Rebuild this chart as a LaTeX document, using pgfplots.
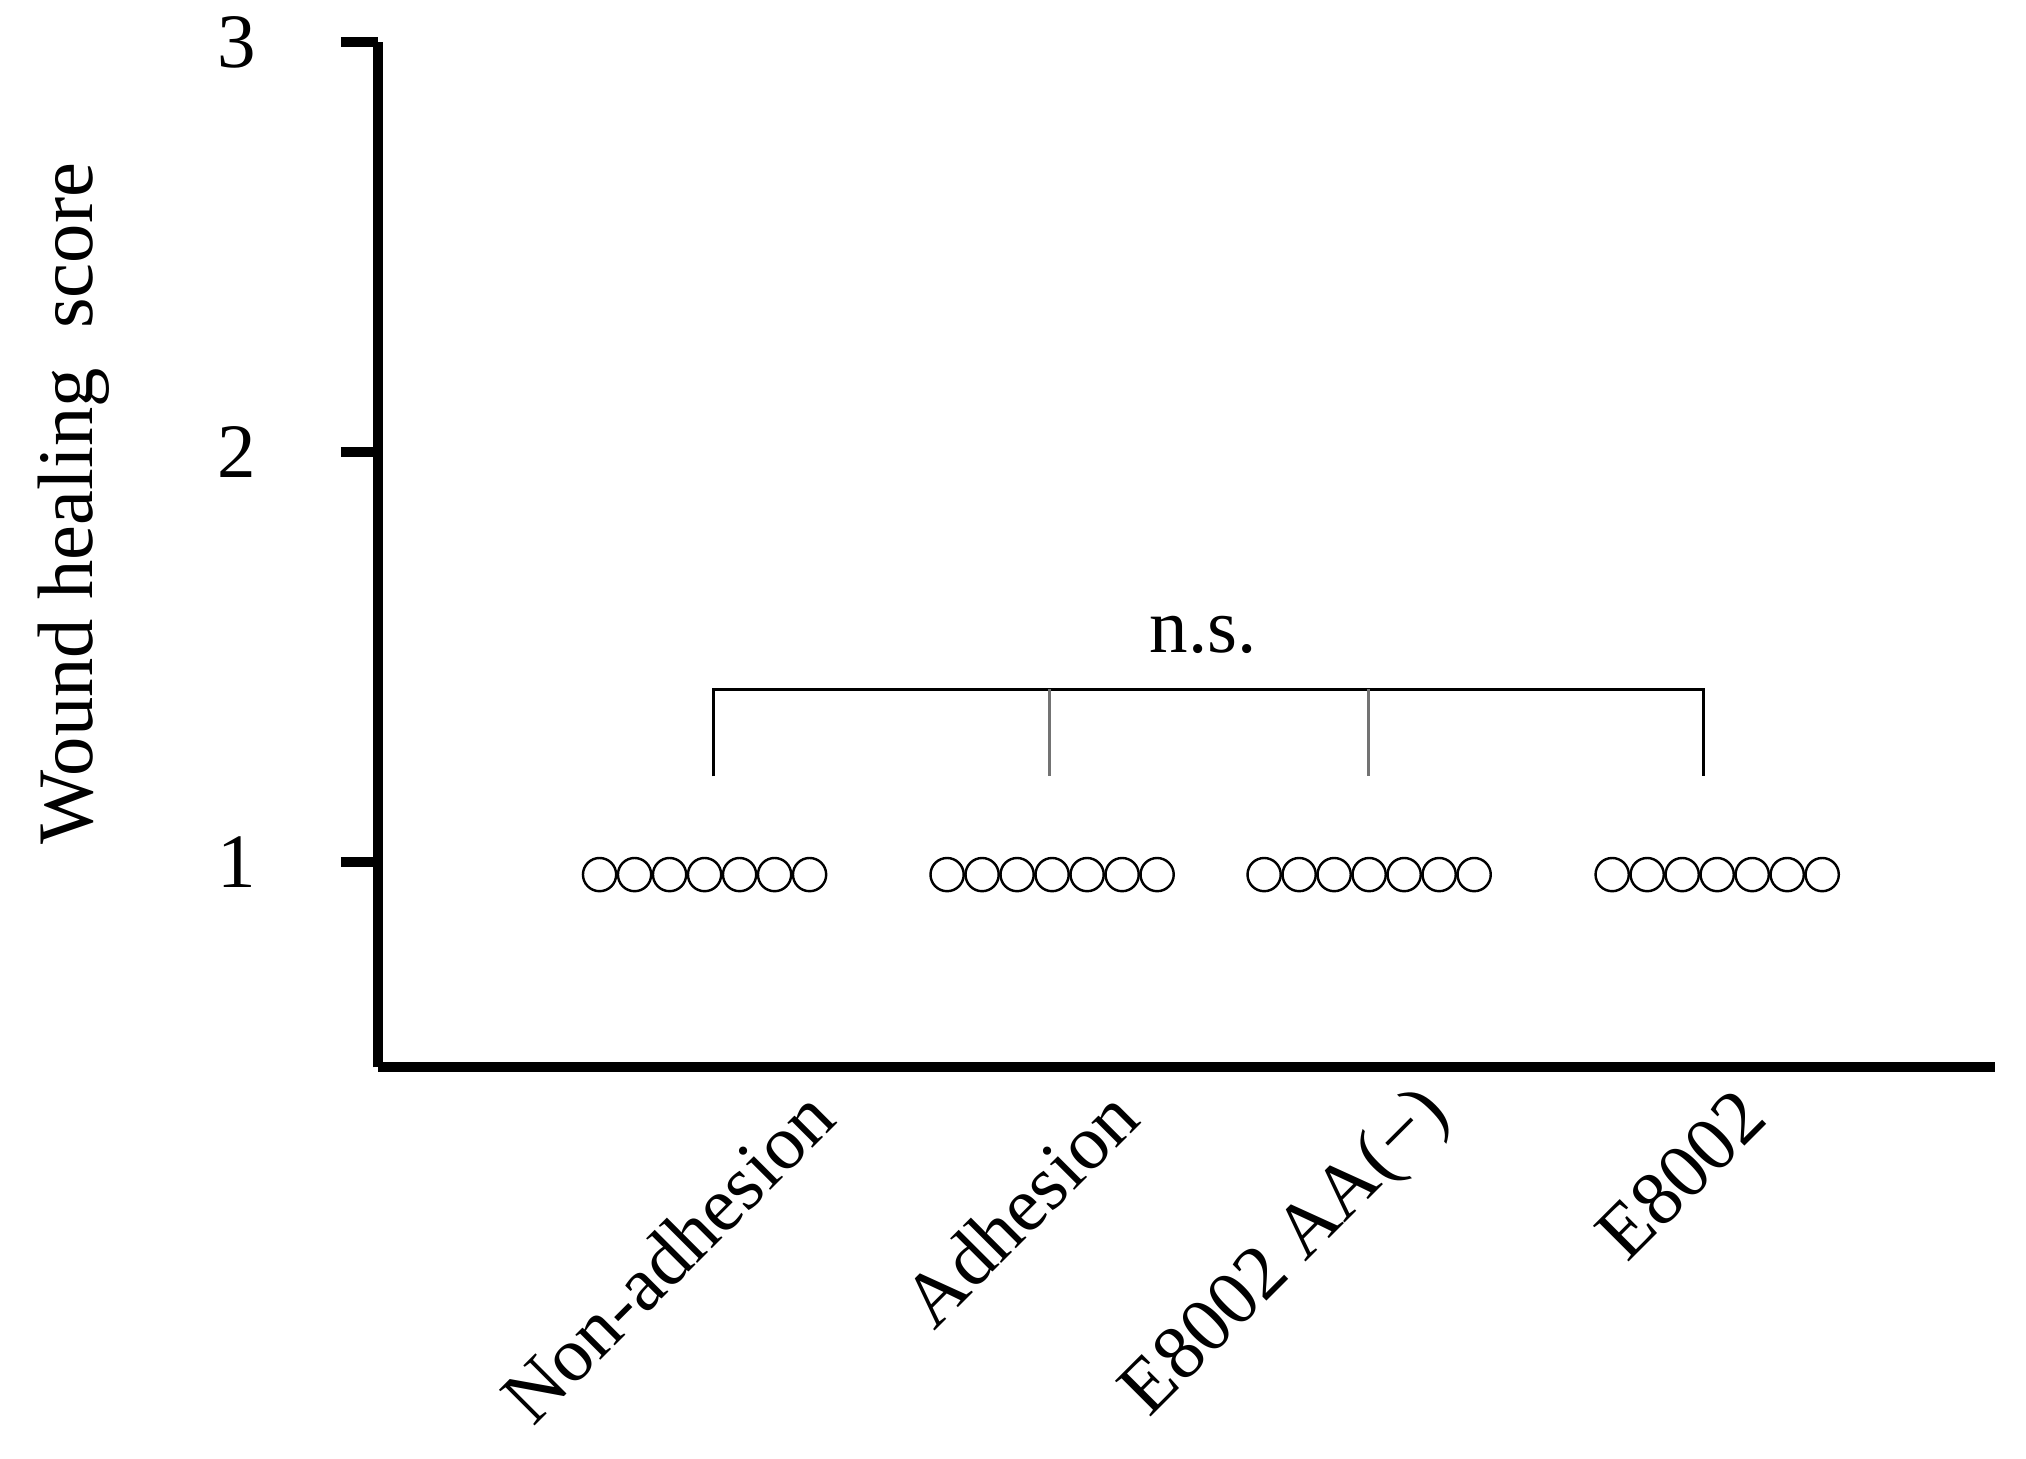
\documentclass[border=0pt]{standalone}
\usepackage{pgfplots}
\pgfplotsset{compat=1.18}
\usepackage{fontspec}
\setmainfont{Liberation Serif}

\begin{document}
\begin{tikzpicture}
\begin{axis}[
  scale only axis, width=399.1pt, height=253pt,
  xmin=0, xmax=16.17, ymin=0.5, ymax=3,
  axis lines=left, axis line style={-, line width=2.5pt},
  tick align=outside,
  xtick={4.44,7.48,10.62,13.76},
  xticklabels={Non-adhesion, Adhesion, E8002 AA(−), E8002},
  xtick style={draw=none},
  xticklabel style={rotate=45, anchor=east, inner sep=0pt, yshift=0.5pt,
    font=\fontsize{19}{22}\selectfont},
  ytick={1,2,3},
  ytick style={line width=2.5pt, black},
  major tick length=9.2pt,
  yticklabel style={inner sep=0pt, anchor=east, xshift=-20.7pt,
    font=\fontsize{19}{22}\selectfont},
  /pgf/number format/assume math mode=true,
  ylabel={Wound healing\ \ score},
  ylabel style={at={(axis description cs:-0.188,0.55)}, anchor=center,
    rotate=0, font=\fontsize{19.4}{22}\selectfont},
  clip=false]
% individual scores (7 per group)
\addplot[only marks, mark=o, mark size=4.1pt, mark options={line width=0.6pt, black}]
  coordinates {(2.215,0.97) (2.565,0.97) (2.915,0.97) (3.265,0.97)
  (3.615,0.97) (3.965,0.97) (4.315,0.97)};
\addplot[only marks, mark=o, mark size=4.1pt, mark options={line width=0.6pt, black}]
  coordinates {(5.69,0.97) (6.04,0.97) (6.39,0.97) (6.74,0.97)
  (7.09,0.97) (7.44,0.97) (7.79,0.97)};
\addplot[only marks, mark=o, mark size=4.1pt, mark options={line width=0.6pt, black}]
  coordinates {(8.86,0.97) (9.21,0.97) (9.56,0.97) (9.91,0.97)
  (10.26,0.97) (10.61,0.97) (10.96,0.97)};
\addplot[only marks, mark=o, mark size=4.1pt, mark options={line width=0.6pt, black}]
  coordinates {(12.34,0.97) (12.69,0.97) (13.04,0.97) (13.39,0.97)
  (13.74,0.97) (14.09,0.97) (14.44,0.97)};
% n.s. bracket
\addplot[black, line width=0.75pt] coordinates {(3.35,1.2095) (3.35,1.4214)
  (13.25,1.4214) (13.25,1.2095)};
\addplot[black!55, line width=0.75pt] coordinates {(6.71,1.4214) (6.71,1.2095)};
\addplot[black!55, line width=0.75pt] coordinates {(9.90,1.4214) (9.90,1.2095)};
\node[anchor=base, inner sep=0pt, font=\fontsize{19}{22}\selectfont]
  at (axis cs:8.25,1.512) {n.s.};
\end{axis}
\pgfresetboundingbox
\path (-93.3pt,-96.5pt) rectangle (406.7pt,263.4pt);
\end{tikzpicture}
\end{document}
